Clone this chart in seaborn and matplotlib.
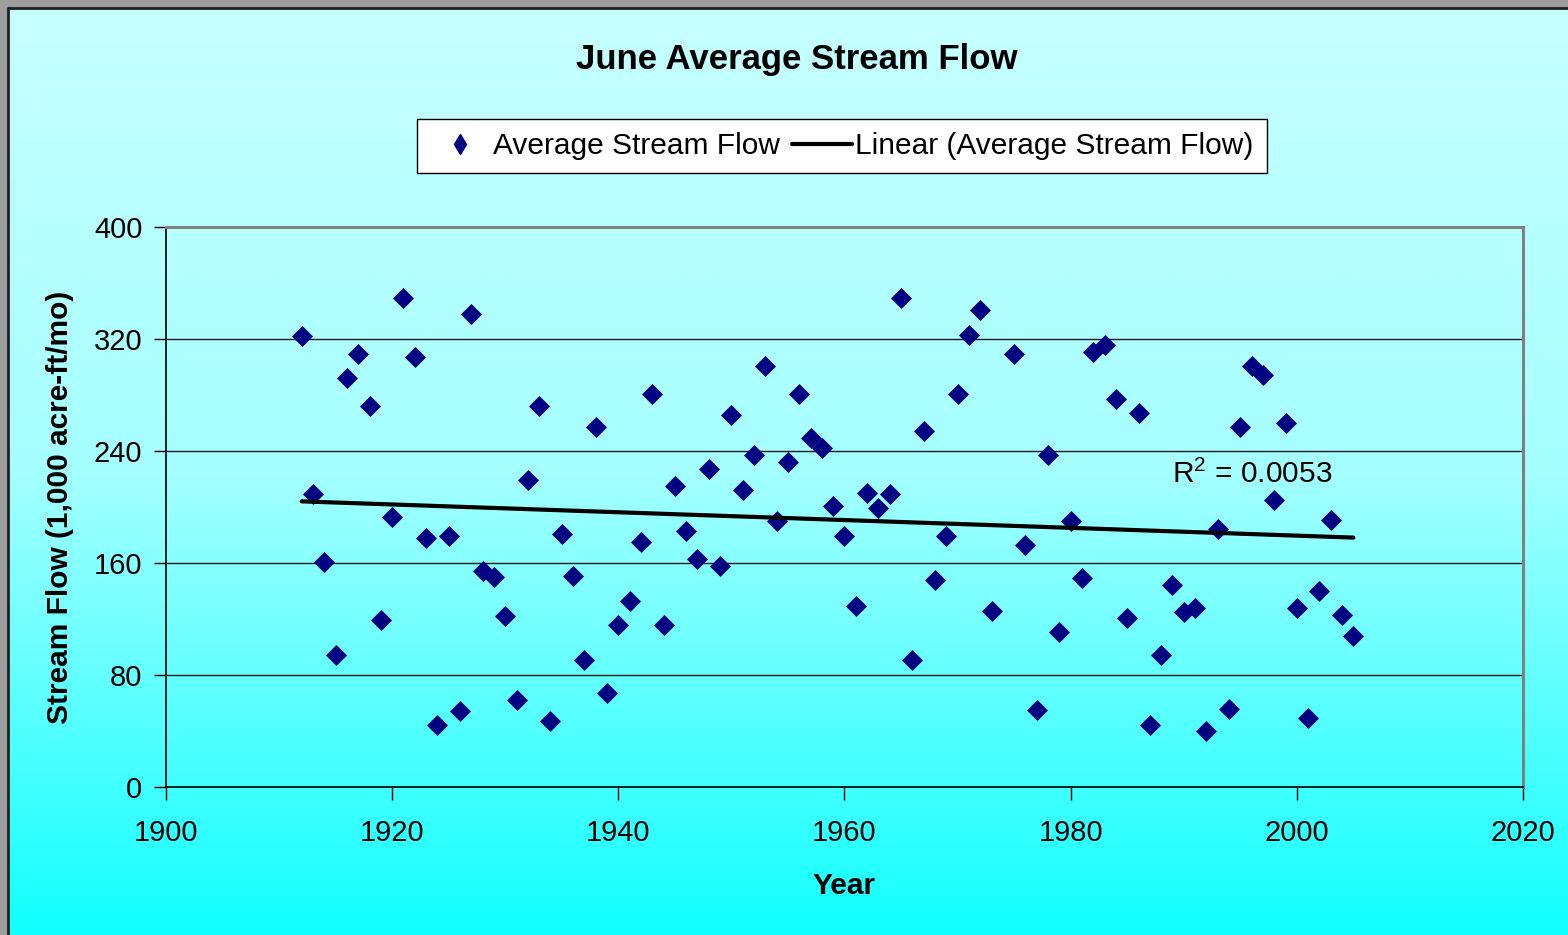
import numpy as np
import pandas as pd
import matplotlib
matplotlib.use("Agg")
import matplotlib.pyplot as plt
from matplotlib.colors import LinearSegmentedColormap
from matplotlib.lines import Line2D
from matplotlib.patches import Rectangle
import seaborn as sns

# ---------------- data ----------------
years = [1912, 1913, 1914, 1915, 1916, 1917, 1918, 1919, 1920, 1921,
         1922, 1923, 1924, 1925, 1926, 1927, 1928, 1929, 1930, 1931,
         1932, 1933, 1934, 1935, 1936, 1937, 1938, 1939, 1940, 1941,
         1942, 1943, 1944, 1945, 1946, 1947, 1948, 1949, 1950, 1951,
         1952, 1953, 1954, 1955, 1956, 1957, 1958, 1959, 1960, 1961,
         1962, 1963, 1964, 1965, 1966, 1967, 1968, 1969, 1970, 1971,
         1972, 1973, 1975, 1976, 1977, 1978, 1979, 1980, 1981, 1982,
         1983, 1984, 1985, 1986, 1987, 1988, 1989, 1990, 1991, 1992,
         1993, 1994, 1995, 1996, 1997, 1998, 1999, 2000, 2001, 2002,
         2003, 2004, 2005]
flows = [322, 209, 161, 94, 292, 309, 272, 119, 193, 349,
         307, 178, 44, 179, 54, 338, 154, 150, 122, 62,
         219, 272, 47, 181, 151, 91, 257, 67, 116, 133,
         175, 281, 116, 215, 183, 163, 227, 158, 266, 212,
         237, 301, 190, 232, 281, 249, 242, 201, 179, 129,
         210, 199, 209, 349, 91, 254, 148, 179, 281, 323,
         341, 126, 309, 173, 55, 237, 111, 190, 149, 311,
         316, 277, 121, 267, 44, 94, 144, 125, 128, 40,
         184, 56, 257, 301, 294, 205, 260, 128, 49, 140,
         191, 123, 108]

title = "June Average Stream Flow"
series_label = "Average Stream Flow"
trend_label = "Linear (Average Stream Flow)"
r2_text = "R$^{2}$ = 0.0053"
x_ticks = [1900, 1920, 1940, 1960, 1980, 2000, 2020]
y_ticks = [0, 80, 160, 240, 320, 400]

df = pd.DataFrame({"Year": years, "Flow": flows})

# ---------------- style ----------------
sns.set_style("white")
plt.rcParams["font.family"] = ["Liberation Sans", "DejaVu Sans"]
plt.rcParams["text.color"] = "black"
plt.rcParams["axes.labelcolor"] = "black"
plt.rcParams["xtick.color"] = "black"
plt.rcParams["ytick.color"] = "black"
plt.rcParams["mathtext.fontset"] = "custom"
plt.rcParams["mathtext.rm"] = "Liberation Sans"
plt.rcParams["mathtext.it"] = "Liberation Sans"
FS = 21.5
TFS = 21

W, H = 1568, 935
fig = plt.figure(figsize=(W / 100, H / 100), dpi=100)

# background gradient
bg = fig.add_axes([0, 0, 1, 1], zorder=-10)
cmap = LinearSegmentedColormap.from_list("cy", ["#C8FFFF", "#A6FFFF", "#12FFFF"])
grad = np.linspace(0, 1, 512).reshape(-1, 1)
bg.imshow(grad, aspect="auto", cmap=cmap, extent=[0, 1, 0, 1], origin="upper")
bg.set_xlim(0, 1)
bg.set_ylim(0, 1)
bg.axis("off")
# gray frame on top and left
bw, bh = 8 / W, 8 / H
bg.add_patch(Rectangle((0, 1 - bh), 1, bh, color="#9E9E9E", lw=0, transform=bg.transAxes))
bg.add_patch(Rectangle((0, 0), bw, 1, color="#9E9E9E", lw=0, transform=bg.transAxes))
bg.plot([bw, 1], [1 - bh, 1 - bh], color="#202020", lw=2, transform=bg.transAxes)
bg.plot([bw, bw], [0, 1 - bh], color="#202020", lw=2, transform=bg.transAxes)

# main axes
l, r, t, b = 166 / W, 1523 / W, 227 / H, 787 / H
ax = fig.add_axes([l, 1 - b, r - l, b - t])
ax.set_facecolor("none")

sns.scatterplot(data=df, x="Year", y="Flow", marker="D", s=115, color="#000080",
                edgecolor="#000080", linewidth=0, ax=ax, zorder=4, label=series_label)
sns.regplot(data=df, x="Year", y="Flow", scatter=False, ci=None, truncate=True,
            line_kws={"color": "black", "lw": 3, "zorder": 5, "label": trend_label}, ax=ax)

ax.set_xlim(1900, 2020)
ax.set_ylim(0, 400)
ax.set_xticks(x_ticks)
ax.set_yticks(y_ticks)
ax.tick_params(axis="both", labelsize=TFS, colors="black", length=9, width=1,
               direction="out", bottom=True, left=True, pad=8)
ax.tick_params(axis="x", pad=14)
ax.grid(axis="y", color="#1a1a1a", lw=1)
ax.grid(axis="x", visible=False)
for s in ["left", "bottom"]:
    ax.spines[s].set_color("black")
    ax.spines[s].set_linewidth(1.2)
for s in ["top", "right"]:
    ax.spines[s].set_color("#808080")
    ax.spines[s].set_linewidth(2.2)
    ax.spines[s].set_visible(True)

ax.set_xlabel("Year", fontsize=FS, fontweight="bold", labelpad=18)
ax.set_ylabel("Stream Flow (1,000 acre-ft/mo)", fontsize=FS, fontweight="bold", labelpad=14)

ax.text(1989.0, 223, r2_text, fontsize=FS, ha="left", va="center", color="black")

# title
fig.text(797 / W, 1 - 60 / H, title, fontsize=25, fontweight="bold", ha="center", va="center")

# legend
if ax.get_legend() is not None:
    ax.get_legend().remove()
handles = [Line2D([], [], marker="d", linestyle="none", color="#000080", markersize=10),
           Line2D([], [], color="black", lw=3)]
leg = fig.legend(handles, [series_label, trend_label], ncol=2, loc="center",
                 bbox_to_anchor=(842 / W, 1 - 146 / H), fontsize=FS, frameon=True,
                 fancybox=False, edgecolor="black", facecolor="white", framealpha=1,
                 handlelength=2.0, handletextpad=0.1, columnspacing=0.4,
                 borderpad=0.45)
leg.get_frame().set_linewidth(1.0)

fig.savefig("out.png", dpi=100)
